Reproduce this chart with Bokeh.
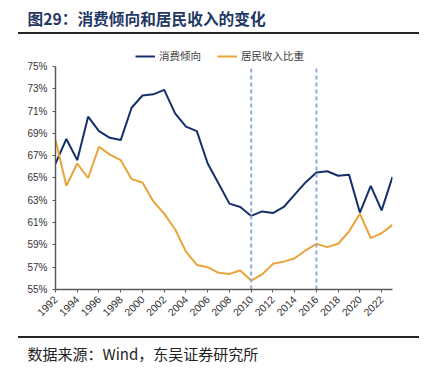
from math import pi
from bokeh.plotting import figure
from bokeh.layouts import column
from bokeh.models import (ColumnDataSource, Label, Legend, LegendItem, Div,
                          FixedTicker, PrintfTickFormatter, Range1d)
from bokeh.embed import file_html
from bokeh.resources import INLINE

years = list(range(1992, 2024))
consumption = [66.3, 68.5, 66.6, 70.5, 69.2, 68.6, 68.4, 71.3, 72.4, 72.5, 72.9, 70.8,
               69.6, 69.2, 66.3, 64.5, 62.7, 62.4, 61.6, 62.0, 61.85, 62.4, 63.5, 64.6,
               65.5, 65.6, 65.2, 65.3, 61.9, 64.3, 62.1, 65.1]
income_share = [68.4, 64.3, 66.3, 65.0, 67.8, 67.1, 66.6, 64.9, 64.6, 62.9, 61.8, 60.4,
                58.4, 57.2, 57.0, 56.5, 56.4, 56.7, 55.8, 56.35, 57.3, 57.5, 57.8, 58.5,
                59.1, 58.8, 59.1, 60.2, 61.8, 59.6, 60.05, 60.8]
marker_years = [2010, 2016]
y_ticks = list(range(55, 76, 2))
x_ticks = list(range(1992, 2023, 2))
series_names = ["消费倾向", "居民收入比重"]
title_text = "图29：消费倾向和居民收入的变化"
source_text = "数据来源：Wind，东吴证券研究所"

NAVY = "#14306B"
ORANGE = "#E9A338"
W = 430
TOP_H, MAIN_H, BOT_H = 32, 302, 32


def banner(height):
    f = figure(width=W, height=height, output_backend="svg", toolbar_location=None,
               x_range=Range1d(0, W), y_range=Range1d(0, height),
               x_axis_type=None, y_axis_type=None, frame_align=False,
               min_border=0, min_border_left=0, min_border_right=0,
               min_border_top=0, min_border_bottom=0)
    f.outline_line_color = None
    f.xgrid.visible = False
    f.ygrid.visible = False
    f.border_fill_color = "white"
    f.background_fill_color = "white"
    return f


def rule():
    return Div(text="", width=401, height=2, margin=(0, 0, 0, 18),
               styles={"background-color": "#262626"})


# title block
top = banner(TOP_H)
top.add_layout(Label(x=27, y=TOP_H - 18, x_units="screen", y_units="screen", text=title_text,
                     text_font="Noto Sans CJK SC", text_font_style="bold",
                     text_font_size="15.7px", text_color="#1F3864", text_baseline="middle"))

# main chart
p = figure(width=W, height=MAIN_H, output_backend="svg", toolbar_location=None,
           x_range=Range1d(1992, 2023), y_range=Range1d(55, 76.97), frame_align=False,
           min_border_left=55, min_border_right=38, min_border_top=10, min_border_bottom=47)
p.outline_line_color = None
p.xgrid.visible = False
p.ygrid.visible = False
p.border_fill_color = "white"

src = ColumnDataSource(dict(year=years, c=consumption, s=income_share))
r1 = p.line("year", "c", source=src, line_color=NAVY, line_width=2)
r2 = p.line("year", "s", source=src, line_color=ORANGE, line_width=2)

p.segment(x0=marker_years, x1=marker_years, y0=[y_ticks[0]] * 2, y1=[y_ticks[-1]] * 2,
          line_color="#8FAADC", line_width=2, line_dash="4 3")

p.yaxis.ticker = FixedTicker(ticks=y_ticks)
p.yaxis.bounds = (y_ticks[0], y_ticks[-1])
p.yaxis.formatter = PrintfTickFormatter(format="%d%%")
p.xaxis.ticker = FixedTicker(ticks=x_ticks)
p.xaxis.major_label_orientation = pi / 4
for ax in (p.xaxis, p.yaxis):
    ax.axis_line_color = "#595959"
    ax.axis_line_width = 1.5
    ax.major_tick_line_color = "#595959"
    ax.minor_tick_line_color = None
    ax.major_label_text_font = "Liberation Sans"
    ax.major_label_text_font_size = "10.5px"
    ax.major_label_text_color = "#333333"
p.yaxis.major_label_text_font_size = "10px"
p.yaxis.major_tick_out = 3
p.yaxis.major_tick_in = 0
p.xaxis.major_tick_out = 3
p.xaxis.major_tick_in = 0

legend = Legend(items=[LegendItem(label=series_names[0], renderers=[r1]),
                       LegendItem(label=series_names[1], renderers=[r2])],
                orientation="horizontal", location=(80, 226),
                border_line_color=None, background_fill_alpha=0,
                label_text_font="Noto Sans CJK SC", label_text_font_size="10.5px",
                label_text_color="#404040", glyph_width=20, glyph_height=10,
                spacing=16, padding=0, margin=0, label_standoff=4)
p.add_layout(legend, "center")

# source block
bot = banner(BOT_H)
bot.add_layout(Label(x=27, y=BOT_H - 15, x_units="screen", y_units="screen", text=source_text,
                     text_font="Noto Sans CJK SC", text_font_size="15px",
                     text_color="#222222", text_baseline="middle"))

layout = column(top, rule(), p, rule(), bot, spacing=0)
open("out.html", "w").write(file_html(layout, INLINE))
